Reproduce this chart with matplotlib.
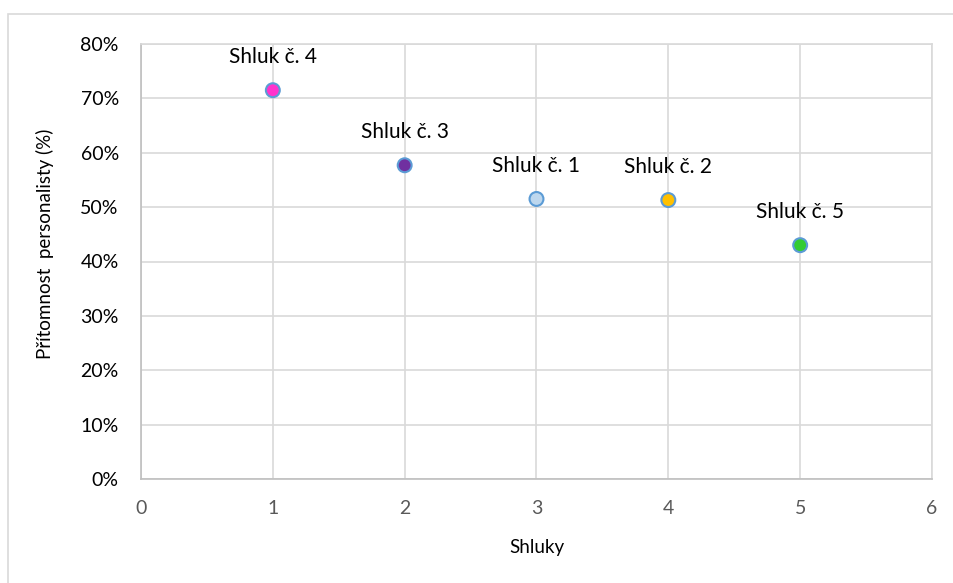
import matplotlib.pyplot as plt
from matplotlib.patches import Rectangle
from matplotlib.ticker import PercentFormatter

# Data
x_vals = [3, 4, 2, 1, 5]
y_vals = [51.5, 51.3, 57.7, 71.5, 43.0]
labels = ['Shluk č. 1', 'Shluk č. 2', 'Shluk č. 3', 'Shluk č. 4', 'Shluk č. 5']
colors = ['#BDD7EE', '#FFC000', '#7030A0', '#FF33CC', '#33CC33']

plt.rcParams['font.family'] = ['Lato', 'DejaVu Sans']

fig = plt.figure(figsize=(9.54, 5.83), dpi=100)
W, H = 954, 583
ax = fig.add_axes([141 / W, 1 - 479 / H, (932 - 141) / W, (479 - 44) / H])

# outer chart border
fig.patches.append(Rectangle((8 / W, -0.1), 1.2, 1 - 14 / H + 0.1,
                             transform=fig.transFigure, fill=False,
                             edgecolor='#D9D9D9', linewidth=1.2))

ax.scatter(x_vals, y_vals, s=100, c=colors, edgecolors='#5B9BD5',
           linewidths=1.5, zorder=3)
for x, y, t in zip(x_vals, y_vals, labels):
    ax.annotate(t, (x, y), xytext=(0, 24), textcoords='offset points',
                ha='center', va='center', fontsize=15, color='black')

ax.set_xlim(0, 6)
ax.set_ylim(0, 80)
ax.set_xticks(range(0, 7))
ax.set_yticks(range(0, 81, 10))
ax.yaxis.set_major_formatter(PercentFormatter(decimals=0))
ax.grid(True, color='#D9D9D9', linewidth=1.2)
ax.set_axisbelow(True)
for s in ['top', 'right']:
    ax.spines[s].set_color('#D9D9D9')
for s in ['bottom', 'left']:
    ax.spines[s].set_color('#BFBFBF')
for s in ax.spines.values():
    s.set_linewidth(1.2)
ax.tick_params(length=0, labelsize=14)
ax.tick_params(axis='x', pad=15, labelcolor='#595959')
ax.tick_params(axis='y', pad=16, labelcolor='black')

# axis titles
fig.text(536.5 / W, 1 - 547 / H, 'Shluky', ha='center', va='center', fontsize=13.5)
fig.text(45 / W, 1 - 244 / H, 'Přítomnost  personalisty (%)', ha='center',
         va='center', rotation=90, fontsize=13.5)

fig.savefig('out.png', dpi=100)
